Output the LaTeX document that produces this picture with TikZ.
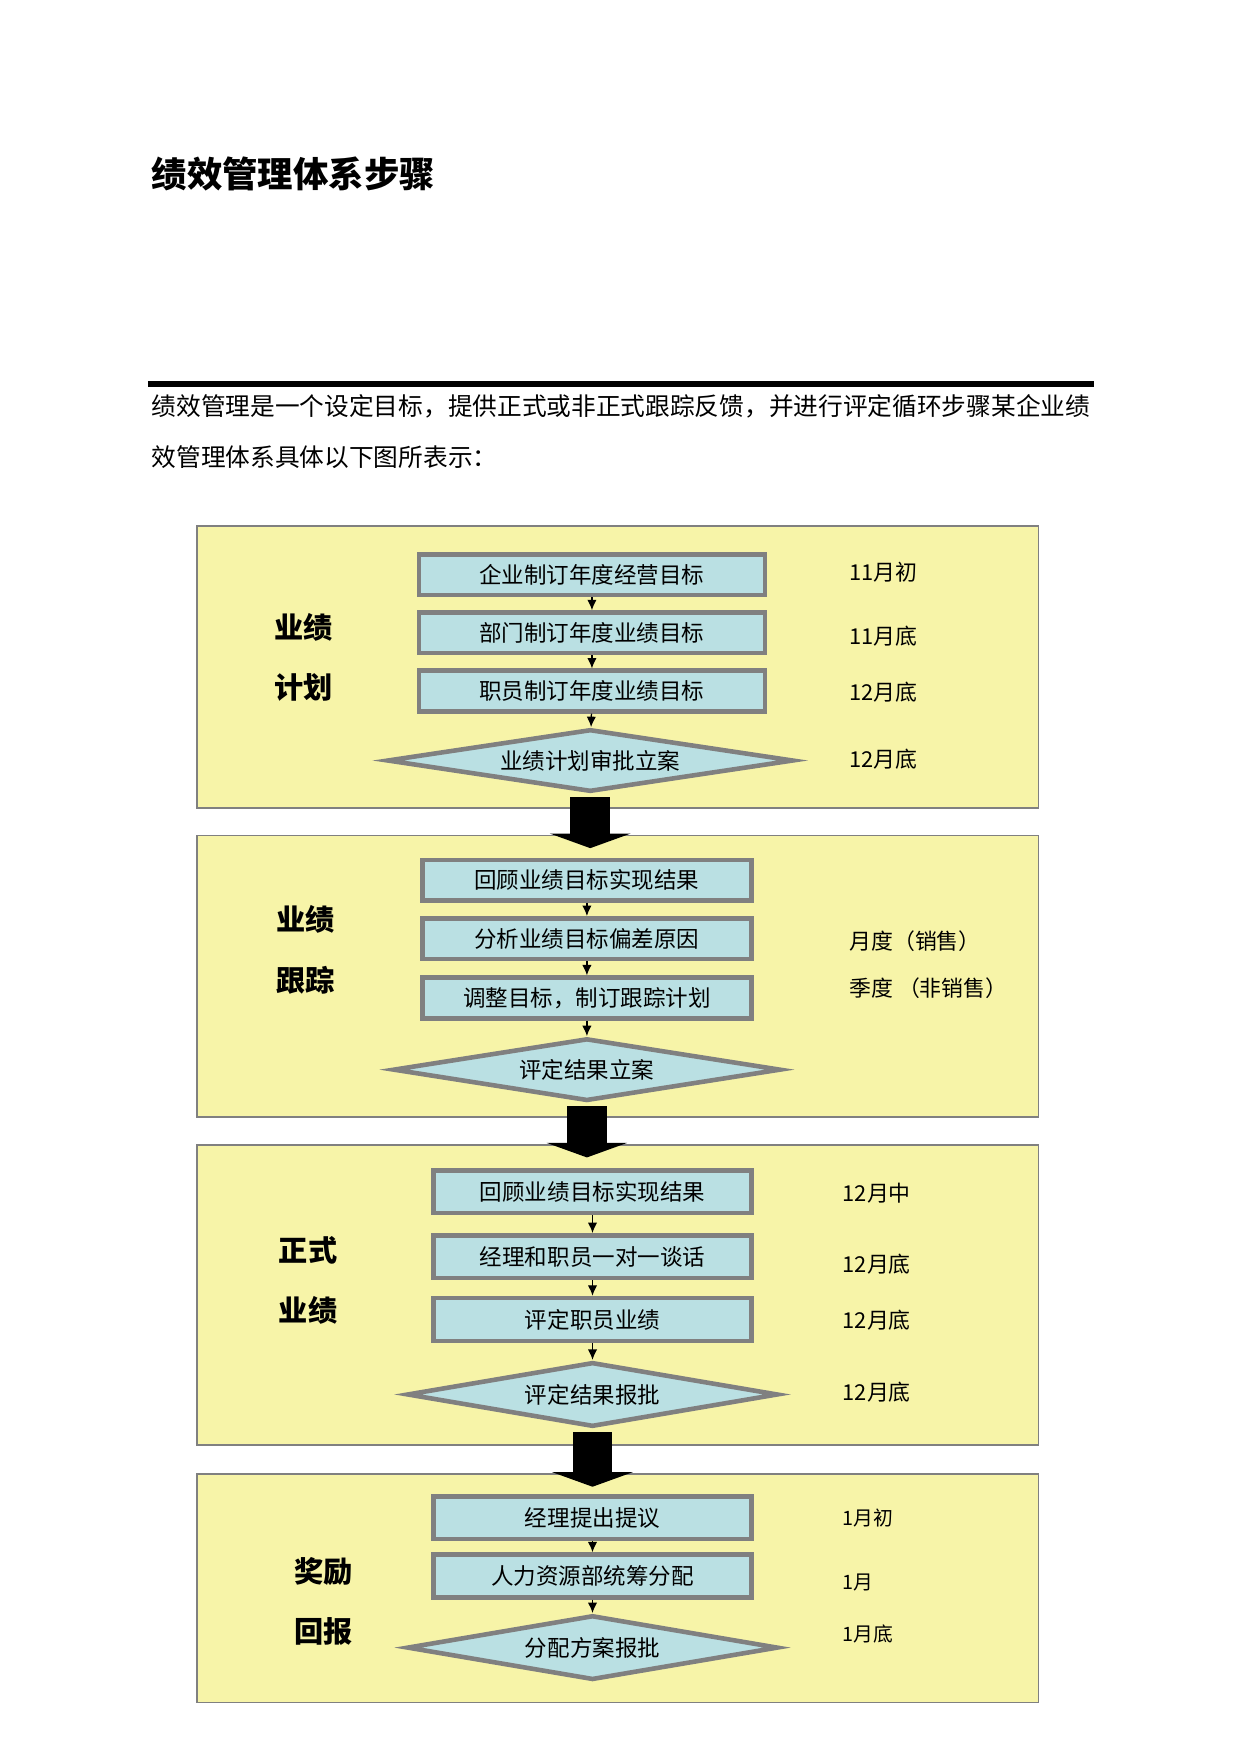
\documentclass[tikz,border=0pt]{standalone}
\usepackage{fontspec}
\setmainfont{Noto Sans CJK SC}
\usetikzlibrary{shapes.geometric,arrows.meta}
\definecolor{panelyellow}{RGB}{247,244,168}
\definecolor{boxblue}{RGB}{186,224,227}
\definecolor{edgegray}{RGB}{128,128,128}
\tikzset{
  panel/.style={draw=edgegray,fill=panelyellow,line width=0.8pt,minimum width=403.8pt},
  stepbox/.style={draw=edgegray,fill=boxblue,line width=2.2pt,inner sep=0pt,
    minimum width=#1,minimum height=19.5pt,font=\fontsize{10.8}{12}\selectfont},
  check/.style={diamond,draw=edgegray,fill=boxblue,line width=2.2pt,inner sep=0pt,aspect=6,
    minimum width=#1,minimum height=30pt,font=\fontsize{10.8}{12}\selectfont},
  phase/.style={align=center,font=\fontsize{14}{29}\selectfont\bfseries},
  when/.style={anchor=west,inner sep=0pt,font=\fontsize{10.5}{12}\selectfont},
  flow/.style={-{Latex[length=5pt,width=4.5pt]},line width=0.6pt},
  bigarrow/.style={line width=19pt,-{Triangle[length=7pt,width=38.5pt]}}
}
\begin{document}
\begin{tikzpicture}[x=0.5374pt,y=-0.5374pt]
  \useasboundingbox (0,0) rectangle (1108,1566);
  \node[anchor=west,inner sep=0pt,font=\fontsize{17}{20}\selectfont\bfseries] (title) at (135,155) {绩效管理体系步骤};
  \draw[line width=2.7pt] (132,343) -- (977,343);
  \node[anchor=west,inner sep=0pt,align=left,font=\fontsize{11.85}{24.4}\selectfont] (intro) at (135,385)
    {绩效管理是一个设定目标，提供正式或非正式跟踪反馈，并进行评定循环步骤某企业绩\\效管理体系具体以下图所表示：};

  \node[panel,minimum height=135pt] (p1) at (551.5,595.5) {};
  \node[phase] (l1) at (271,587) {业绩\\计划};
  \node[stepbox=166pt] (a1) at (528.5,513) {企业制订年度经营目标};
  \node[stepbox=166pt] (a2) at (528.5,565) {部门制订年度业绩目标};
  \node[stepbox=166pt] (a3) at (528.5,617) {职员制订年度业绩目标};
  \node[check=195pt,aspect=6.5] (a4) at (527,679) {业绩计划审批立案};
  \node[when] (ta1) at (758,511) {11月初};
  \node[when] (ta2) at (758,568) {11月底};
  \node[when] (ta3) at (758,618) {12月底};
  \node[when] (ta4) at (758,678) {12月底};
  \draw[flow] (a1) -- (a2);
  \draw[flow] (a2) -- (a3);
  \draw[flow] (a3) -- (a4);

  \node[panel,minimum height=135pt] (p2) at (551.5,871.5) {};
  \node[phase] (l2) at (273,848) {业绩\\跟踪};
  \node[stepbox=158pt] (b1) at (524,786) {回顾业绩目标实现结果};
  \node[stepbox=158pt] (b2) at (524,838) {分析业绩目标偏差原因};
  \node[stepbox=158pt] (b3) at (524,891) {调整目标，制订跟踪计划};
  \node[check=186pt,aspect=6.2] (b4) at (524,955) {评定结果立案};
  \node[when] (tb1) at (758,840) {月度（销售）};
  \node[when] (tb2) at (758,882) {季度 （非销售）};
  \draw[flow] (b1) -- (b2);
  \draw[flow] (b2) -- (b3);
  \draw[flow] (b3) -- (b4);

  \node[panel,minimum height=144pt] (p3) at (551.5,1156) {};
  \node[phase] (l3) at (275,1143) {正式\\业绩};
  \node[stepbox=152.6pt,minimum height=20.5pt] (c1) at (529,1064) {回顾业绩目标实现结果};
  \node[stepbox=152.6pt,minimum height=20.5pt] (c2) at (529,1122) {经理和职员一对一谈话};
  \node[stepbox=152.6pt,minimum height=20.5pt] (c3) at (529,1178) {评定职员业绩};
  \node[check=178pt,aspect=5.7,minimum height=31pt] (c4) at (529,1245) {评定结果报批};
  \node[when] (tc1) at (752,1065) {12月中};
  \node[when] (tc2) at (752,1129) {12月底};
  \node[when] (tc3) at (752,1179) {12月底};
  \node[when] (tc4) at (752,1243) {12月底};
  \draw[flow] (c1) -- (c2);
  \draw[flow] (c2) -- (c3);
  \draw[flow] (c3) -- (c4);

  \node[panel,minimum height=109.6pt] (p4) at (551.5,1418) {};
  \node[phase] (l4) at (289,1430) {奖励\\回报};
  \node[stepbox=152.6pt,minimum height=20.5pt] (e1) at (529,1355) {经理提出提议};
  \node[stepbox=152.6pt,minimum height=20.5pt] (e2) at (529,1407) {人力资源部统筹分配};
  \node[check=178pt,aspect=5.7,minimum height=31pt] (e3) at (529,1471) {分配方案报批};
  \node[when,font=\fontsize{9.5}{11}\selectfont] (te1) at (752,1355) {1月初};
  \node[when,font=\fontsize{9.5}{11}\selectfont] (te2) at (752,1413) {1月};
  \node[when,font=\fontsize{9.5}{11}\selectfont] (te3) at (752,1459) {1月底};
  \draw[flow] (e1) -- (e2);
  \draw[flow] (e2) -- (e3);

  \draw[bigarrow] ([yshift=-1.5pt]a4.south) -- ([yshift=-6.5pt]p2.north -| a4.south);
  \draw[bigarrow] ([yshift=-1.5pt]b4.south) -- ([yshift=-6.5pt]p3.north -| b4.south);
  \draw[bigarrow] ([yshift=-1.5pt]c4.south) -- ([yshift=-6.5pt]p4.north -| c4.south);
\end{tikzpicture}
\end{document}
